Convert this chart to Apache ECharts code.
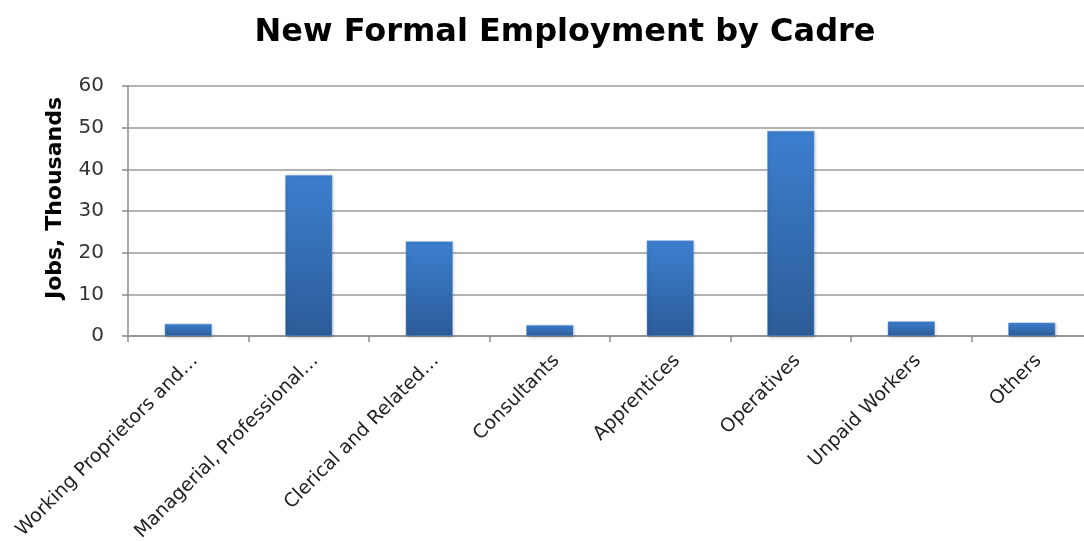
<!DOCTYPE html>
<html>
<head>
<meta charset="utf-8">
<script src="https://cdn.jsdelivr.net/npm/echarts@6/dist/echarts.min.js"></script>
<style>
html,body{margin:0;padding:0;background:#fff;}
#chart{width:1084px;height:541px;}
</style>
</head>
<body>
<div id="chart"></div>
<script>
const categories = ["Working Proprietors and\u2026", "Managerial, Professional\u2026", "Clerical and Related\u2026", "Consultants", "Apprentices", "Operatives", "Unpaid Workers", "Others"];
const values = [2.9, 38.6, 22.7, 2.6, 22.9, 49.2, 3.5, 3.2];
const yTicks = [0, 10, 20, 30, 40, 50, 60];

const chart = echarts.init(document.getElementById('chart'));
const font = '"DejaVu Sans", sans-serif';
chart.setOption({
  animation: false,
  backgroundColor: '#ffffff',
  title: {
    text: 'New Formal Employment by Cadre',
    left: 560, top: 12, textAlign: 'center',
    textStyle: {fontFamily: font, fontSize: 32, fontWeight: 'bold', color: '#000'}
  },
  grid: {left: 128, right: -8, top: 86, bottom: 205, containLabel: false, outerBoundsMode: 'none'},
  xAxis: {
    type: 'category',
    data: categories,
    axisLine: {lineStyle: {color: '#8c8c8c', width: 1.5}},
    axisTick: {show: true, length: 6, lineStyle: {color: '#8c8c8c', width: 1.5}},
    axisLabel: {rotate: 45, interval: 0, margin: 15, verticalAlign: 'top', fontFamily: font, fontSize: 19, color: '#222'}
  },
  yAxis: {
    type: 'value',
    min: 0, max: 60, interval: 10,
    name: 'Jobs, Thousands',
    nameLocation: 'middle',
    nameGap: 62,
    nameTextStyle: {fontFamily: font, fontSize: 22, fontWeight: 'bold', color: '#000', padding: [0, 0, 0, 26]},
    axisLine: {show: true, lineStyle: {color: '#8c8c8c', width: 1.5}},
    axisTick: {show: true, length: 6, lineStyle: {color: '#8c8c8c', width: 1.5}},
    axisLabel: {margin: 24, fontFamily: font, fontSize: 20, color: '#333',
      formatter: v => yTicks.includes(v) ? String(v) : ''},
    splitLine: {lineStyle: {color: '#9a9a9a', width: 1.5}}
  },
  series: [{
    type: 'bar',
    data: values,
    barWidth: '39%',
    itemStyle: {
      color: new echarts.graphic.LinearGradient(0, 0, 0, 1, [
        {offset: 0, color: '#3c7fcf'},
        {offset: 1, color: '#2c5c98'}
      ]),
      borderColor: '#6a9ad8',
      borderWidth: 0.5,
      shadowColor: 'rgba(0,0,0,0.25)',
      shadowBlur: 3,
      shadowOffsetX: 1,
      shadowOffsetY: 1
    }
  }]
});
</script>
</body>
</html>
